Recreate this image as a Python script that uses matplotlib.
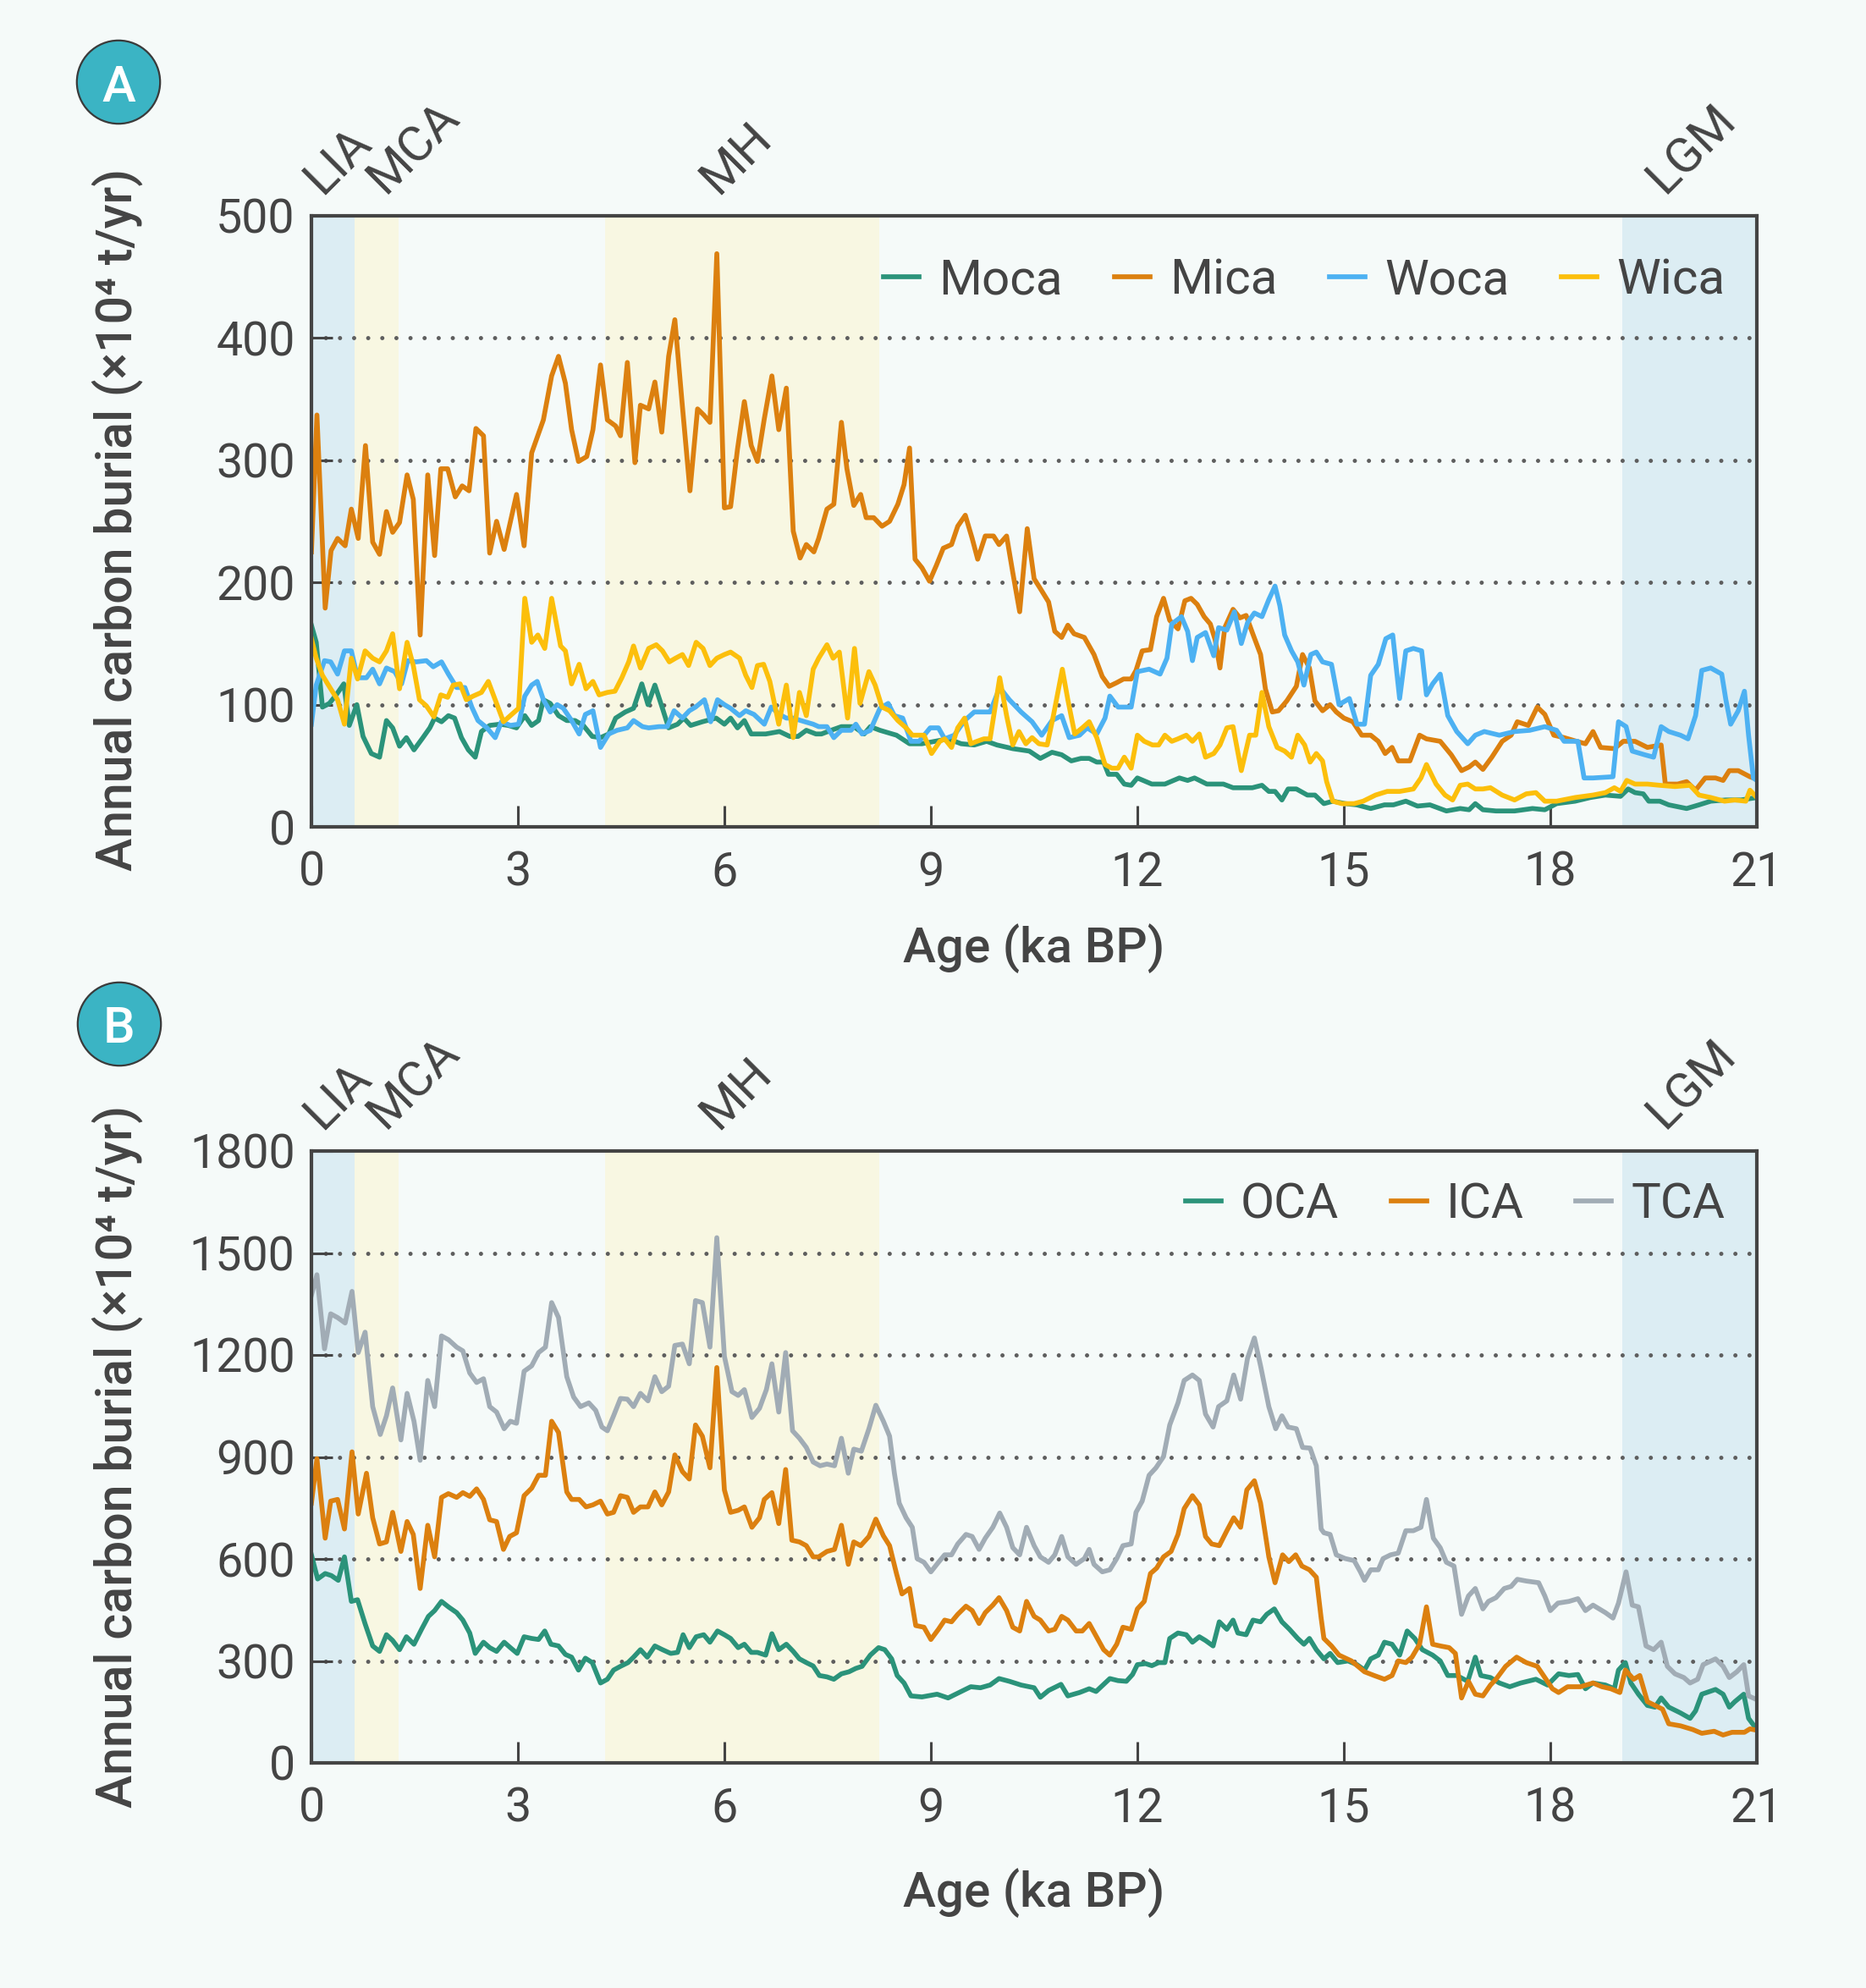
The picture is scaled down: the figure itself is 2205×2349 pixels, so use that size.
import numpy as np
import matplotlib
matplotlib.use('Agg')
import matplotlib.pyplot as plt
from matplotlib.patches import Circle

# ---- data: (age ka BP, annual burial x10^4 t/yr) ----
moca = [(0, 165), (0.07, 151), (0.16, 98), (0.26, 101), (0.36, 108), (0.47, 117), (0.55, 83), (0.66, 100),
        (0.75, 74), (0.87, 60), (0.99, 57), (1.09, 87), (1.18, 81), (1.28, 66), (1.38, 73), (1.49, 63),
        (1.62, 73), (1.72, 81), (1.79, 89), (1.89, 86), (1.99, 91), (2.08, 89), (2.18, 73), (2.28, 63),
        (2.38, 57), (2.47, 78), (2.59, 83), (2.74, 84), (2.86, 83), (2.98, 81), (3.1, 91), (3.2, 83),
        (3.3, 87), (3.37, 104), (3.47, 101), (3.59, 91), (3.71, 87), (3.83, 87), (3.95, 83), (4.08, 74),
        (4.2, 73), (4.32, 76), (4.42, 89), (4.56, 94), (4.68, 97), (4.8, 117), (4.89, 100), (4.99, 116),
        (5.1, 97), (5.19, 81), (5.32, 84), (5.41, 89), (5.51, 83), (5.68, 86), (5.88, 89), (6.0, 84),
        (6.09, 89), (6.19, 81), (6.29, 87), (6.39, 76), (6.6, 76), (6.8, 78), (6.95, 74), (7.07, 74),
        (7.19, 79), (7.33, 76), (7.41, 76), (7.55, 79), (7.7, 82), (7.88, 82), (8.03, 76), (8.12, 82),
        (8.26, 79), (8.5, 75), (8.69, 68), (8.87, 68), (9.06, 70), (9.25, 72), (9.44, 68), (9.63, 67),
        (9.81, 70), (9.96, 67), (10.19, 64), (10.43, 62), (10.59, 56), (10.76, 61), (10.9, 59), (11.04, 54),
        (11.18, 56), (11.3, 56), (11.41, 53), (11.51, 53), (11.58, 43), (11.7, 43), (11.81, 35), (11.91, 34),
        (12.0, 40), (12.21, 35), (12.4, 35), (12.61, 40), (12.73, 38), (12.83, 40), (13.01, 35), (13.25, 35),
        (13.39, 32), (13.67, 32), (13.81, 34), (13.91, 29), (14.0, 29), (14.1, 22), (14.19, 31), (14.31, 31),
        (14.47, 26), (14.58, 26), (14.71, 19), (14.84, 21), (15.02, 19), (15.19, 18), (15.39, 15), (15.59, 18),
        (15.72, 18), (15.9, 21), (16.07, 17), (16.25, 18), (16.49, 13), (16.69, 15), (16.82, 14), (16.91, 19),
        (17.02, 14), (17.21, 13), (17.48, 13), (17.74, 15), (17.92, 14), (18.09, 19), (18.36, 21), (18.58, 24),
        (18.8, 26), (19.02, 25), (19.13, 31), (19.23, 28), (19.35, 27), (19.43, 21), (19.59, 21), (19.72, 18),
        (19.98, 15), (20.16, 18), (20.33, 21), (20.55, 22), (20.77, 22), (21.0, 24)]

mica = [(0, 225), (0.08, 337), (0.2, 179), (0.285, 226), (0.38, 236), (0.49, 230), (0.58, 260), (0.68, 236),
        (0.785, 312), (0.89, 233), (0.99, 223), (1.09, 258), (1.18, 241), (1.28, 249), (1.39, 288), (1.48, 268),
        (1.58, 157), (1.69, 288), (1.79, 222), (1.88, 293), (1.98, 293), (2.09, 270), (2.19, 279), (2.29, 275),
        (2.39, 326), (2.5, 320), (2.59, 224), (2.69, 250), (2.8, 227), (2.98, 272), (3.09, 230), (3.2, 306),
        (3.37, 333), (3.49, 369), (3.59, 385), (3.69, 363), (3.78, 325), (3.88, 299), (4.0, 303), (4.09, 325),
        (4.2, 378), (4.3, 333), (4.42, 328), (4.49, 320), (4.59, 380), (4.7, 298), (4.78, 345), (4.9, 342),
        (4.99, 364), (5.09, 323), (5.19, 385), (5.28, 415), (5.39, 344), (5.5, 275), (5.61, 342), (5.7, 337),
        (5.79, 331), (5.89, 469), (6.0, 261), (6.09, 262), (6.19, 309), (6.29, 348), (6.39, 312), (6.48, 299),
        (6.58, 334), (6.69, 369), (6.79, 325), (6.9, 359), (7.0, 242), (7.1, 220), (7.19, 231), (7.3, 225),
        (7.37, 236), (7.49, 260), (7.59, 264), (7.7, 331), (7.78, 293), (7.88, 263), (7.98, 272), (8.06, 253),
        (8.17, 253), (8.29, 246), (8.4, 250), (8.52, 264), (8.61, 280), (8.69, 310), (8.77, 219), (8.87, 212),
        (8.98, 201), (9.08, 214), (9.18, 228), (9.3, 231), (9.39, 246), (9.5, 255), (9.6, 236), (9.68, 219),
        (9.79, 238), (9.91, 238), (9.99, 231), (10.1, 238), (10.19, 208), (10.29, 176), (10.4, 244), (10.5, 203),
        (10.59, 195), (10.71, 184), (10.8, 160), (10.9, 155), (10.99, 165), (11.08, 158), (11.23, 155),
        (11.37, 141), (11.49, 123), (11.59, 115), (11.7, 118), (11.8, 121), (11.91, 121), (11.98, 128),
        (12.07, 144), (12.19, 145), (12.28, 172), (12.38, 187), (12.47, 169), (12.59, 162), (12.69, 185),
        (12.78, 187), (12.87, 182), (12.97, 172), (13.06, 166), (13.13, 153), (13.2, 130), (13.27, 163),
        (13.39, 178), (13.49, 171), (13.58, 173), (13.67, 159), (13.79, 141), (13.86, 113), (13.96, 94),
        (14.05, 95), (14.17, 103), (14.31, 115), (14.4, 141), (14.5, 130), (14.58, 103), (14.69, 95),
        (14.8, 100), (14.89, 94), (15.0, 89), (15.13, 86), (15.26, 75), (15.39, 75), (15.5, 70), (15.6, 60),
        (15.7, 65), (15.79, 54), (15.96, 54), (16.1, 75), (16.2, 72), (16.4, 70), (16.56, 59), (16.71, 46),
        (16.82, 49), (16.91, 53), (17.02, 47), (17.15, 57), (17.3, 70), (17.43, 75), (17.52, 86), (17.68, 83),
        (17.81, 98), (17.92, 92), (18.05, 75), (18.2, 73), (18.38, 70), (18.51, 68), (18.62, 78), (18.73, 65),
        (18.93, 64), (19.06, 70), (19.23, 70), (19.41, 65), (19.61, 67), (19.67, 35), (19.85, 35), (19.98, 37),
        (20.11, 30), (20.25, 40), (20.4, 40), (20.51, 38), (20.6, 46), (20.73, 46), (20.9, 41), (21.0, 39)]

woca = [(0, 84), (0.07, 116), (0.19, 136), (0.28, 135), (0.38, 125), (0.48, 144), (0.58, 144), (0.67, 122),
        (0.8, 122), (0.89, 129), (0.99, 117), (1.09, 130), (1.21, 127), (1.31, 117), (1.4, 136), (1.52, 135),
        (1.67, 136), (1.77, 131), (1.89, 135), (1.99, 125), (2.11, 114), (2.23, 114), (2.33, 98), (2.42, 87),
        (2.55, 81), (2.67, 73), (2.76, 86), (2.89, 83), (3.01, 84), (3.1, 107), (3.2, 116), (3.28, 119),
        (3.37, 104), (3.47, 94), (3.57, 100), (3.66, 97), (3.78, 87), (3.89, 76), (3.98, 92), (4.09, 95),
        (4.2, 65), (4.32, 76), (4.44, 79), (4.59, 81), (4.68, 87), (4.81, 82), (4.9, 81), (5.05, 82), (5.17, 82),
        (5.27, 95), (5.39, 89), (5.49, 95), (5.58, 98), (5.71, 104), (5.8, 86), (5.9, 104), (6.0, 100),
        (6.09, 97), (6.22, 91), (6.31, 95), (6.43, 92), (6.58, 84), (6.68, 98), (6.8, 92), (6.9, 89), (7.0, 89),
        (7.11, 87), (7.29, 84), (7.37, 82), (7.49, 82), (7.59, 73), (7.7, 79), (7.84, 79), (7.91, 84), (8.0, 76),
        (8.12, 79), (8.26, 97), (8.38, 101), (8.47, 91), (8.59, 89), (8.71, 70), (8.83, 70), (8.99, 81),
        (9.11, 81), (9.2, 72), (9.34, 75), (9.49, 87), (9.63, 94), (9.86, 94), (10.0, 114), (10.14, 104),
        (10.31, 94), (10.47, 86), (10.61, 75), (10.76, 87), (10.9, 91), (11.01, 73), (11.16, 75), (11.27, 81),
        (11.41, 76), (11.53, 89), (11.6, 107), (11.72, 98), (11.91, 98), (12.0, 127), (12.17, 129), (12.33, 125),
        (12.43, 138), (12.5, 166), (12.64, 172), (12.73, 160), (12.8, 136), (12.87, 155), (12.99, 159),
        (13.11, 140), (13.18, 163), (13.3, 161), (13.41, 176), (13.51, 150), (13.6, 167), (13.7, 175),
        (13.81, 172), (13.91, 186), (14.0, 197), (14.07, 181), (14.14, 157), (14.24, 144), (14.33, 135),
        (14.42, 116), (14.52, 141), (14.6, 143), (14.69, 135), (14.82, 133), (14.93, 100), (15.08, 105),
        (15.19, 84), (15.3, 84), (15.39, 124), (15.5, 133), (15.61, 154), (15.71, 157), (15.81, 105),
        (15.9, 144), (16.01, 146), (16.13, 144), (16.2, 108), (16.29, 117), (16.4, 125), (16.51, 91),
        (16.64, 78), (16.8, 68), (16.91, 75), (17.04, 78), (17.26, 75), (17.48, 78), (17.7, 79), (17.92, 82),
        (18.09, 79), (18.2, 70), (18.4, 70), (18.49, 40), (18.62, 40), (18.91, 41), (18.99, 86), (19.1, 82),
        (19.19, 62), (19.37, 59), (19.5, 57), (19.61, 82), (19.72, 78), (19.89, 75), (20.0, 72), (20.11, 91),
        (20.2, 128), (20.33, 130), (20.49, 125), (20.55, 104), (20.62, 84), (20.73, 95), (20.82, 111),
        (20.88, 75), (20.95, 40), (21.0, 38)]

wica = [(0, 154), (0.07, 138), (0.16, 124), (0.28, 113), (0.38, 104), (0.48, 84), (0.58, 138), (0.67, 121),
        (0.78, 144), (0.89, 138), (0.99, 135), (1.09, 144), (1.18, 158), (1.28, 113), (1.39, 151), (1.48, 132),
        (1.57, 104), (1.67, 99), (1.78, 90), (1.88, 108), (1.98, 106), (2.06, 116), (2.16, 117), (2.25, 104),
        (2.35, 107), (2.47, 110), (2.57, 119), (2.67, 104), (2.79, 86), (2.89, 91), (3.01, 97), (3.1, 187),
        (3.2, 151), (3.29, 157), (3.39, 146), (3.49, 187), (3.62, 148), (3.69, 144), (3.78, 117), (3.89, 133),
        (3.99, 113), (4.09, 119), (4.18, 108), (4.3, 110), (4.41, 111), (4.51, 122), (4.61, 135), (4.68, 148),
        (4.78, 130), (4.9, 146), (5.01, 149), (5.1, 144), (5.2, 135), (5.29, 138), (5.39, 141), (5.48, 132),
        (5.59, 151), (5.69, 146), (5.79, 132), (5.89, 138), (6.0, 141), (6.09, 143), (6.22, 138), (6.31, 124),
        (6.4, 114), (6.48, 132), (6.57, 133), (6.66, 119), (6.79, 84), (6.9, 116), (7.0, 73), (7.09, 110),
        (7.19, 91), (7.29, 129), (7.37, 138), (7.49, 149), (7.58, 138), (7.67, 143), (7.79, 89), (7.89, 146),
        (7.97, 101), (8.1, 127), (8.19, 116), (8.29, 98), (8.4, 95), (8.52, 87), (8.64, 81), (8.73, 75),
        (8.9, 75), (9.01, 60), (9.13, 70), (9.2, 72), (9.3, 65), (9.39, 81), (9.49, 89), (9.58, 68), (9.67, 70),
        (9.77, 72), (9.86, 72), (10.0, 122), (10.1, 91), (10.19, 67), (10.28, 78), (10.38, 68), (10.47, 73),
        (10.57, 68), (10.69, 67), (10.78, 91), (10.91, 129), (10.99, 104), (11.09, 76), (11.2, 81), (11.3, 86),
        (11.41, 73), (11.53, 51), (11.63, 48), (11.72, 48), (11.81, 57), (11.91, 48), (12.0, 75), (12.1, 70),
        (12.22, 67), (12.31, 67), (12.4, 75), (12.5, 70), (12.59, 72), (12.71, 75), (12.8, 70), (12.9, 76),
        (12.99, 57), (13.11, 60), (13.2, 67), (13.3, 81), (13.39, 82), (13.51, 46), (13.63, 75), (13.72, 75),
        (13.81, 110), (13.91, 82), (14.03, 65), (14.14, 62), (14.24, 57), (14.33, 75), (14.43, 67), (14.51, 53),
        (14.6, 60), (14.69, 54), (14.75, 37), (14.84, 21), (14.97, 19), (15.15, 19), (15.28, 21), (15.46, 26),
        (15.63, 29), (15.81, 29), (16.01, 31), (16.12, 40), (16.2, 51), (16.34, 35), (16.47, 26), (16.58, 22),
        (16.69, 34), (16.8, 35), (16.91, 31), (17.02, 31), (17.13, 32), (17.3, 26), (17.48, 22), (17.65, 27),
        (17.79, 28), (17.92, 21), (18.09, 21), (18.36, 24), (18.62, 26), (18.8, 28), (18.93, 32), (19.02, 29),
        (19.11, 38), (19.23, 35), (19.41, 35), (19.59, 34), (19.81, 33), (20.03, 34), (20.16, 26), (20.33, 24),
        (20.53, 21), (20.68, 22), (20.84, 21), (20.9, 30), (21.0, 24)]

oca = [(0, 612), (0.09, 541), (0.2, 557), (0.29, 551), (0.39, 537), (0.48, 606), (0.58, 475), (0.67, 480),
       (0.78, 409), (0.89, 344), (0.99, 328), (1.09, 377), (1.18, 360), (1.28, 333), (1.38, 371), (1.49, 349),
       (1.6, 393), (1.7, 431), (1.79, 448), (1.89, 475), (1.99, 459), (2.11, 442), (2.2, 420), (2.3, 382),
       (2.38, 322), (2.5, 355), (2.59, 339), (2.69, 328), (2.8, 355), (2.89, 339), (2.99, 322), (3.09, 371),
       (3.2, 366), (3.3, 363), (3.39, 388), (3.48, 349), (3.59, 344), (3.69, 319), (3.78, 311), (3.88, 273),
       (3.98, 308), (4.08, 295), (4.2, 235), (4.3, 246), (4.39, 273), (4.49, 284), (4.6, 295), (4.68, 311),
       (4.78, 333), (4.88, 311), (4.99, 344), (5.1, 333), (5.22, 322), (5.32, 325), (5.4, 377), (5.49, 339),
       (5.59, 371), (5.7, 377), (5.79, 355), (5.9, 388), (6.0, 377), (6.09, 366), (6.2, 339), (6.29, 349),
       (6.39, 325), (6.48, 325), (6.6, 317), (6.69, 380), (6.79, 333), (6.9, 349), (7.0, 328), (7.09, 306),
       (7.19, 295), (7.29, 285), (7.38, 257), (7.49, 253), (7.59, 246), (7.7, 262), (7.81, 268), (7.91, 278),
       (8.0, 284), (8.12, 317), (8.24, 339), (8.33, 333), (8.43, 306), (8.51, 257), (8.61, 235), (8.71, 197),
       (8.87, 194), (9.09, 202), (9.25, 191), (9.41, 207), (9.58, 224), (9.72, 221), (9.86, 229), (9.99, 248),
       (10.14, 240), (10.31, 229), (10.5, 221), (10.59, 193), (10.71, 213), (10.89, 231), (10.99, 197),
       (11.16, 207), (11.3, 218), (11.4, 210), (11.49, 227), (11.6, 248), (11.72, 242), (11.84, 240),
       (11.93, 260), (12.0, 289), (12.12, 292), (12.21, 286), (12.31, 295), (12.4, 295), (12.47, 366),
       (12.59, 382), (12.71, 377), (12.8, 355), (12.9, 371), (12.99, 360), (13.1, 344), (13.19, 415),
       (13.3, 393), (13.39, 420), (13.46, 382), (13.58, 377), (13.68, 420), (13.79, 415), (13.88, 437),
       (13.99, 453), (14.1, 415), (14.21, 393), (14.33, 366), (14.42, 349), (14.5, 366), (14.6, 333),
       (14.71, 306), (14.8, 322), (14.91, 295), (15.06, 300), (15.19, 289), (15.3, 273), (15.39, 306),
       (15.5, 317), (15.59, 355), (15.7, 349), (15.81, 317), (15.92, 388), (16.03, 366), (16.14, 333),
       (16.29, 317), (16.4, 300), (16.51, 257), (16.64, 257), (16.8, 240), (16.91, 311), (16.99, 257),
       (17.13, 251), (17.26, 235), (17.41, 224), (17.57, 235), (17.79, 246), (17.96, 229), (18.12, 262),
       (18.27, 257), (18.4, 260), (18.51, 218), (18.62, 235), (18.8, 229), (18.93, 218), (18.99, 273),
       (19.09, 295), (19.17, 235), (19.28, 202), (19.41, 169), (19.52, 164), (19.61, 191), (19.72, 164),
       (19.89, 147), (20.03, 131), (20.11, 153), (20.2, 202), (20.4, 216), (20.51, 202), (20.6, 164),
       (20.68, 180), (20.81, 202), (20.88, 131), (21.0, 98)]

ica = [(0, 764), (0.08, 895), (0.2, 661), (0.28, 770), (0.38, 775), (0.48, 688), (0.59, 915), (0.68, 732),
       (0.8, 852), (0.89, 721), (0.99, 644), (1.09, 650), (1.18, 737), (1.3, 622), (1.39, 710), (1.48, 672),
       (1.58, 513), (1.69, 699), (1.79, 606), (1.89, 781), (1.99, 792), (2.11, 781), (2.2, 795), (2.3, 784),
       (2.4, 806), (2.5, 775), (2.59, 715), (2.69, 710), (2.79, 628), (2.88, 666), (2.98, 677), (3.09, 786),
       (3.2, 808), (3.3, 846), (3.4, 846), (3.49, 1005), (3.59, 972), (3.71, 797), (3.78, 775), (3.89, 775),
       (3.99, 753), (4.09, 759), (4.2, 770), (4.3, 732), (4.39, 737), (4.49, 786), (4.59, 781), (4.68, 737),
       (4.78, 753), (4.89, 753), (4.99, 797), (5.09, 759), (5.19, 797), (5.28, 906), (5.39, 857), (5.49, 835),
       (5.58, 994), (5.68, 961), (5.79, 868), (5.89, 1163), (6.0, 803), (6.09, 737), (6.2, 743), (6.29, 753),
       (6.4, 693), (6.51, 721), (6.58, 775), (6.69, 795), (6.79, 704), (6.89, 863), (6.98, 655), (7.09, 650),
       (7.19, 639), (7.29, 606), (7.37, 606), (7.49, 622), (7.6, 628), (7.7, 699), (7.8, 584), (7.88, 650),
       (7.98, 639), (8.1, 666), (8.2, 717), (8.31, 668), (8.4, 639), (8.5, 557), (8.58, 497), (8.69, 513),
       (8.78, 404), (8.9, 399), (9.0, 363), (9.11, 393), (9.2, 420), (9.3, 415), (9.39, 437), (9.51, 461),
       (9.6, 448), (9.7, 410), (9.79, 442), (9.9, 464), (9.99, 486), (10.1, 448), (10.19, 399), (10.29, 388),
       (10.39, 475), (10.5, 431), (10.59, 420), (10.71, 388), (10.8, 393), (10.9, 431), (10.99, 420),
       (11.11, 388), (11.2, 388), (11.3, 410), (11.39, 377), (11.51, 333), (11.6, 317), (11.7, 349),
       (11.79, 399), (11.91, 393), (12.0, 453), (12.1, 475), (12.19, 557), (12.28, 573), (12.38, 606),
       (12.49, 622), (12.59, 672), (12.68, 748), (12.8, 786), (12.9, 759), (12.99, 666), (13.08, 644),
       (13.19, 639), (13.3, 683), (13.4, 721), (13.5, 693), (13.59, 803), (13.7, 830), (13.79, 764),
       (13.91, 606), (14.0, 530), (14.11, 612), (14.2, 592), (14.3, 612), (14.39, 579), (14.5, 568),
       (14.6, 546), (14.67, 426), (14.71, 366), (14.82, 344), (14.93, 317), (15.11, 300), (15.3, 268),
       (15.44, 257), (15.59, 246), (15.7, 257), (15.79, 300), (15.9, 295), (15.99, 311), (16.1, 349),
       (16.2, 459), (16.29, 349), (16.4, 344), (16.53, 339), (16.62, 322), (16.71, 191), (16.81, 240),
       (16.91, 202), (17.02, 197), (17.13, 229), (17.21, 246), (17.35, 284), (17.51, 311), (17.65, 295),
       (17.81, 284), (17.92, 251), (18.03, 218), (18.12, 207), (18.25, 224), (18.44, 224), (18.62, 235),
       (18.75, 224), (18.88, 218), (19.01, 207), (19.09, 273), (19.21, 246), (19.3, 257), (19.41, 180),
       (19.52, 169), (19.63, 158), (19.72, 115), (19.89, 109), (20.07, 98), (20.2, 87), (20.38, 93),
       (20.51, 82), (20.64, 90), (20.82, 90), (20.9, 100), (21.0, 96)]

tca = [(0, 1376), (0.08, 1436), (0.19, 1218), (0.28, 1321), (0.38, 1310), (0.49, 1294), (0.59, 1387),
       (0.68, 1207), (0.78, 1267), (0.89, 1048), (1.0, 966), (1.09, 1021), (1.18, 1103), (1.3, 950),
       (1.39, 1087), (1.49, 1005), (1.58, 890), (1.69, 1125), (1.79, 1048), (1.89, 1256), (1.99, 1245),
       (2.11, 1223), (2.2, 1212), (2.3, 1147), (2.4, 1119), (2.5, 1130), (2.59, 1048), (2.69, 1032),
       (2.8, 983), (2.89, 1005), (2.98, 999), (3.09, 1152), (3.2, 1168), (3.3, 1207), (3.4, 1223),
       (3.49, 1354), (3.59, 1310), (3.71, 1136), (3.81, 1076), (3.91, 1048), (4.03, 1059), (4.13, 1037),
       (4.22, 988), (4.3, 977), (4.39, 1021), (4.49, 1072), (4.59, 1070), (4.68, 1048), (4.78, 1087),
       (4.89, 1065), (4.99, 1136), (5.09, 1092), (5.19, 1108), (5.28, 1228), (5.39, 1232), (5.49, 1174),
       (5.58, 1360), (5.68, 1354), (5.79, 1223), (5.89, 1545), (6.0, 1196), (6.11, 1092), (6.2, 1081),
       (6.29, 1098), (6.4, 1016), (6.51, 1043), (6.61, 1098), (6.69, 1174), (6.79, 1032), (6.89, 1207),
       (6.99, 977), (7.09, 955), (7.19, 928), (7.29, 885), (7.39, 874), (7.49, 879), (7.6, 874), (7.7, 955),
       (7.8, 852), (7.88, 923), (7.99, 917), (8.1, 983), (8.2, 1052), (8.31, 1005), (8.4, 961), (8.47, 852),
       (8.54, 764), (8.64, 721), (8.73, 693), (8.8, 601), (8.9, 590), (9.0, 562), (9.11, 590), (9.2, 612),
       (9.3, 612), (9.39, 644), (9.51, 672), (9.6, 666), (9.7, 628), (9.79, 661), (9.9, 693), (10.0, 735),
       (10.1, 693), (10.19, 633), (10.29, 612), (10.39, 693), (10.5, 639), (10.59, 606), (10.71, 590),
       (10.8, 612), (10.9, 666), (10.99, 606), (11.11, 584), (11.23, 601), (11.3, 628), (11.37, 584),
       (11.49, 562), (11.6, 568), (11.7, 601), (11.79, 639), (11.91, 644), (11.98, 737), (12.07, 770),
       (12.17, 846), (12.27, 868), (12.38, 901), (12.47, 994), (12.59, 1059), (12.68, 1125), (12.8, 1141),
       (12.9, 1125), (12.99, 1026), (13.1, 988), (13.18, 1048), (13.3, 1065), (13.4, 1141), (13.5, 1070),
       (13.6, 1190), (13.7, 1250), (13.79, 1168), (13.91, 1048), (14.01, 983), (14.1, 1021), (14.19, 988),
       (14.31, 983), (14.4, 928), (14.51, 926), (14.6, 874), (14.67, 688), (14.71, 677), (14.8, 672),
       (14.89, 612), (15.02, 601), (15.15, 595), (15.24, 562), (15.3, 537), (15.39, 568), (15.5, 568),
       (15.57, 601), (15.68, 612), (15.79, 617), (15.9, 683), (16.01, 683), (16.12, 693), (16.2, 775),
       (16.3, 661), (16.4, 633), (16.49, 590), (16.6, 579), (16.71, 437), (16.81, 491), (16.91, 513),
       (17.02, 453), (17.1, 475), (17.21, 486), (17.33, 513), (17.43, 519), (17.52, 540), (17.65, 535),
       (17.83, 530), (17.92, 491), (18.0, 448), (18.11, 470), (18.27, 475), (18.4, 483), (18.51, 448),
       (18.62, 464), (18.8, 442), (18.91, 426), (18.99, 470), (19.1, 562), (19.19, 464), (19.28, 459),
       (19.39, 344), (19.5, 333), (19.61, 355), (19.7, 284), (19.81, 262), (19.94, 251), (20.03, 235),
       (20.14, 246), (20.22, 289), (20.4, 306), (20.51, 284), (20.6, 251), (20.71, 268), (20.81, 289),
       (20.88, 197), (21.0, 186)]

# climate periods (ka BP) and where their labels sit
periods = [('LIA', 0.0, 0.63, 'blue', 0.38), ('MCA', 0.63, 1.27, 'yellow', 1.48),
           ('MH', 4.27, 8.25, 'yellow', 6.17), ('LGM', 19.05, 21.0, 'blue', 20.05)]

xticks = [0, 3, 6, 9, 12, 15, 18, 21]
yticks_a = [0, 100, 200, 300, 400, 500]
yticks_b = [0, 300, 600, 900, 1200, 1500, 1800]

BG = '#f5faf9'
TXT = '#444444'
shade = {'blue': '#dcedf3', 'yellow': '#f8f7e2'}
colors = {'Moca': '#2b937a', 'Mica': '#dc800f', 'Woca': '#4db1f2', 'Wica': '#fcbf0b',
          'OCA': '#2b937a', 'ICA': '#dc800f', 'TCA': '#a1acb5'}

plt.rcParams['font.family'] = ['Roboto', 'DejaVu Sans']

W, H = 2205, 2349
fig = plt.figure(figsize=(W / 100, H / 100), dpi=100, facecolor=BG)


def px_axes(left, top, right, bottom):
    return fig.add_axes([left / W, 1 - bottom / H, (right - left) / W, (bottom - top) / H])


def style_axes(ax, yticks, series, legend_y, xlabel_pad):
    ax.set_facecolor(BG)
    for name, pts in series:
        age, val = np.array(pts).T
        ax.plot(age, val, color=colors[name], lw=4.1, label=name, solid_joinstyle='round', zorder=3)
    for label, a0, a1, kind, xl in periods:
        ax.axvspan(a0, a1, color=shade[kind], lw=0, zorder=0)
        ax.text(xl, 1.022, label, transform=ax.get_xaxis_transform(), rotation=45,
                ha='center', va='bottom', fontsize=42, color=TXT)
    ax.set_xlim(0, 21)
    ax.set_ylim(yticks[0], yticks[-1])
    ax.set_xticks(xticks)
    ax.set_yticks(yticks)
    # dotted reference lines
    for y in yticks[1:-1]:
        ax.axhline(y, color='#5e5e5e', lw=3.6, linestyle=(0, (0.001, 3.33)),
                   dash_capstyle='round', zorder=1)
    for s in ax.spines.values():
        s.set_linewidth(3)
        s.set_color(TXT)
        s.set_zorder(5)
    ax.tick_params(direction='in', length=18, width=2.2, color=TXT, labelcolor=TXT, labelsize=40)
    ax.tick_params(axis='x', pad=20)
    ax.tick_params(axis='y', pad=14)
    ax.set_xlabel('Age (ka BP)', fontsize=42, fontweight='medium', color=TXT, labelpad=xlabel_pad)
    ax.legend(loc='upper right', bbox_to_anchor=(0.978, legend_y), ncol=len(series), frameon=False,
              fontsize=42, handlelength=0.72, handletextpad=0.4, columnspacing=1.05,
              borderpad=0, borderaxespad=0, labelcolor=TXT)


def panel_label(letter, cx, cy):
    s = 120
    lab = fig.add_axes([(cx - s / 2) / W, 1 - (cy + s / 2) / H, s / W, s / H])
    lab.set_xlim(0, 1)
    lab.set_ylim(0, 1)
    lab.set_aspect('equal')
    lab.axis('off')
    lab.add_patch(Circle((0.5, 0.5), 0.41, facecolor='#3bb4c4', edgecolor='#3a3a3a', lw=1.6))
    lab.text(0.5, 0.5, letter, ha='center', va='center_baseline', fontsize=43,
             fontweight='medium', color='white')


ylab = 'Annual carbon burial (×10⁴ t/yr)'

ax_a = px_axes(368, 255, 2076, 977)
style_axes(ax_a, yticks_a, [('Moca', moca), ('Mica', mica), ('Woca', woca), ('Wica', wica)],
           legend_y=0.931, xlabel_pad=24)
fig.text(139 / W, 1 - 614 / H, ylab, rotation=90, ha='center', va='center',
         fontsize=42.5, fontweight='medium', color=TXT)
panel_label('A', 140, 97)

ax_b = px_axes(368, 1360, 2076, 2083)
style_axes(ax_b, yticks_b, [('OCA', oca), ('ICA', ica), ('TCA', tca)],
           legend_y=0.950, xlabel_pad=31)
fig.text(139 / W, 1 - 1721 / H, ylab, rotation=90, ha='center', va='center',
         fontsize=42.5, fontweight='medium', color=TXT)
panel_label('B', 141, 1210)

fig.savefig('out.png', dpi=100, facecolor=BG)
